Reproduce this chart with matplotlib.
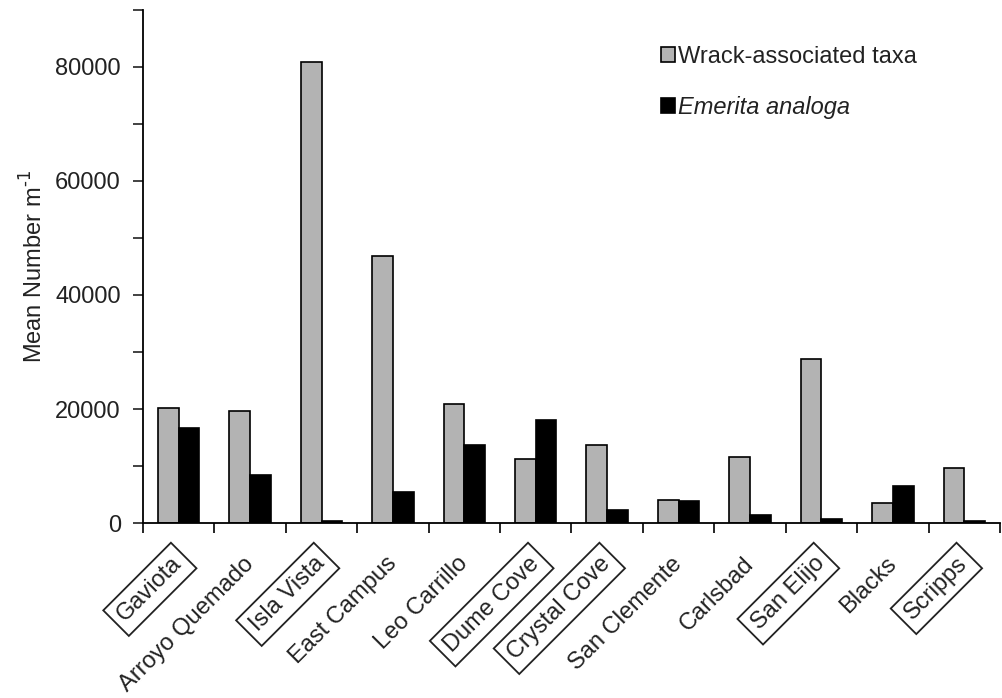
import matplotlib
matplotlib.use("Agg")
import matplotlib.pyplot as plt
import numpy as np

sites = ["Gaviota", "Arroyo Quemado", "Isla Vista", "East Campus", "Leo Carrillo",
         "Dume Cove", "Crystal Cove", "San Clemente", "Carlsbad", "San Elijo",
         "Blacks", "Scripps"]
boxed = ["Gaviota", "Isla Vista", "Dume Cove", "Crystal Cove", "San Elijo", "Scripps"]
wrack = [20200, 19700, 80800, 46900, 20900, 11200, 13600, 4100, 11500, 28800, 3500, 9700]
emerita = [16600, 8400, 300, 5500, 13700, 18000, 2300, 3900, 1400, 700, 6500, 400]

plt.rcParams['font.family'] = ['Liberation Sans', 'DejaVu Sans']

fig = plt.figure(figsize=(10.02, 6.98), dpi=100)
ax = fig.add_axes([0.1427, 0.2507, 0.8553, 0.735])

x = np.arange(len(sites))
w = 0.29
ax.bar(x - w / 2, wrack, width=w, color="#b3b3b3", edgecolor="black", linewidth=1.2,
       label="Wrack-associated taxa")
ax.bar(x + w / 2, emerita, width=w, color="black", edgecolor="black", linewidth=1.2,
       label="Emerita analoga")

ax.set_xlim(-0.5, len(sites) - 0.5)
ax.set_ylim(0, 90000)
ax.set_yticks(np.arange(0, 80001, 20000))
ax.set_yticks(np.arange(0, 90001, 10000), minor=True)
ax.tick_params(axis='y', which='both', direction='out', length=7, width=1.2, labelsize=17,
               colors='#222222')
ax.tick_params(axis='y', which='major', pad=9)

ax.set_xticks(x)
ax.set_xticks(np.arange(-0.5, len(sites), 1.0), minor=True)
ax.tick_params(axis='x', which='major', length=0, pad=27, labelsize=17)
ax.tick_params(axis='x', which='minor', length=7, width=1.2, direction='out')
labels = ax.set_xticklabels(sites, rotation=45, ha='right', va='center',
                            rotation_mode='anchor')
for lab in labels:
    lab.set_color('#222222')
    if lab.get_text() in boxed:
        lab.set_bbox(dict(facecolor='white', edgecolor='#222222', linewidth=1.3,
                          boxstyle='square,pad=0.3'))

for s in ['top', 'right']:
    ax.spines[s].set_visible(False)
ax.spines['left'].set_linewidth(1.3)
ax.spines['bottom'].set_linewidth(1.3)

ax.set_ylabel("Mean Number m$^{\\text{-}1}$", fontsize=17, color='#222222', labelpad=5)

leg = ax.legend(loc='upper left', bbox_to_anchor=(0.58, 0.972), frameon=False,
                fontsize=17, handlelength=0.6, handleheight=0.6, handletextpad=0.1,
                labelspacing=1.2)
leg.get_texts()[1].set_fontstyle('italic')
for t in leg.get_texts():
    t.set_color('#222222')

fig.savefig("out.png", dpi=100)
